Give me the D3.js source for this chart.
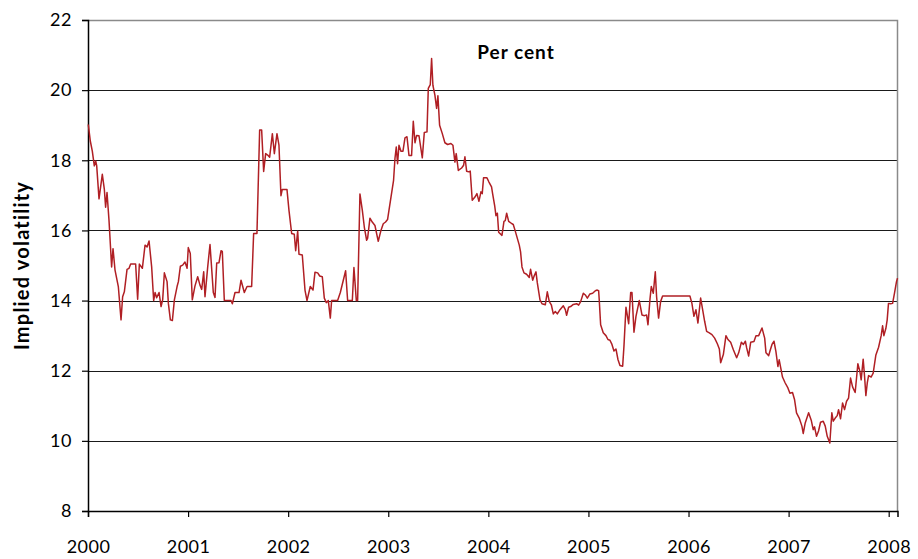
<!DOCTYPE html>
<html>
<head>
<meta charset="utf-8">
<script src="https://cdn.jsdelivr.net/npm/d3@7"></script>
<style>
  body { margin: 0; background: #fff; }
  svg { display: block; }
  text { font-family: Lato, "Open Sans", sans-serif; fill: #000; }
</style>
</head>
<body>
<svg id="chart" width="918" height="559"></svg>
<script>
// time in years after the start of 2000
const t = [
  0.003, 0.023, 0.043, 0.063, 0.077, 0.087, 0.11, 0.143, 0.163, 0.176, 0.19, 0.21, 0.236, 0.25, 0.27, 0.303,
  0.33, 0.346, 0.363, 0.39, 0.41, 0.426, 0.476, 0.496, 0.513, 0.543, 0.57, 0.59, 0.61, 0.636, 0.656, 0.67,
  0.686, 0.71, 0.73, 0.746, 0.763, 0.79, 0.803, 0.823, 0.843, 0.863, 0.89, 0.903, 0.923, 0.946, 0.969, 0.99,
  1.002, 1.022, 1.042, 1.069, 1.096, 1.119, 1.136, 1.156, 1.169, 1.196, 1.219, 1.252, 1.269, 1.286, 1.309, 1.329,
  1.342, 1.362, 1.409,
  1.429, 1.442, 1.469, 1.509, 1.529, 1.562, 1.589, 1.635, 1.655, 1.688, 1.715, 1.735, 1.755, 1.775, 1.795, 1.815,
  1.842, 1.862, 1.888, 1.908, 1.928, 1.941, 1.988, 2.008, 2.035, 2.061, 2.075, 2.095, 2.108, 2.141, 2.168, 2.188,
  2.221, 2.248, 2.268, 2.295, 2.315, 2.341, 2.361, 2.381, 2.401, 2.421, 2.434, 2.494, 2.521, 2.574, 2.594, 2.641,
  2.657, 2.681, 2.694, 2.717, 2.741, 2.761, 2.784,
  2.794, 2.817, 2.84, 2.867, 2.9, 2.927, 2.95, 2.973, 2.993, 3.007, 3.053, 3.067, 3.08, 3.093, 3.107, 3.127,
  3.147, 3.167, 3.187, 3.207, 3.233, 3.25, 3.267, 3.283, 3.307, 3.34, 3.36, 3.387, 3.4, 3.42, 3.433, 3.446,
  3.466, 3.483, 3.496, 3.513, 3.54, 3.566, 3.593, 3.626, 3.646, 3.666, 3.679, 3.7, 3.733, 3.753, 3.766, 3.783,
  3.806, 3.819, 3.839, 3.866, 3.886, 3.906, 3.926, 3.939, 3.952, 3.986, 4.006, 4.032,
  4.043, 4.063, 4.076, 4.09, 4.103, 4.136, 4.156, 4.169, 4.183, 4.203, 4.236, 4.249, 4.269, 4.309, 4.322, 4.336,
  4.356, 4.382, 4.409, 4.422, 4.443, 4.456, 4.476, 4.489, 4.516, 4.536, 4.569, 4.589, 4.609, 4.629, 4.649, 4.669,
  4.689, 4.716, 4.749, 4.769, 4.782, 4.802, 4.822, 4.849, 4.882, 4.902, 4.922, 4.949, 4.969, 4.989, 5.015, 5.042,
  5.069, 5.088, 5.102, 5.108, 5.122, 5.148, 5.175, 5.195, 5.215, 5.235, 5.255, 5.275, 5.295, 5.315, 5.342, 5.355,
  5.375, 5.402, 5.422, 5.435, 5.455, 5.475,
  5.508, 5.535, 5.561, 5.581, 5.595, 5.615, 5.628, 5.648, 5.668, 5.681, 5.701, 5.721, 5.741, 6.014, 6.034, 6.054,
  6.074, 6.094, 6.121, 6.141, 6.161, 6.181, 6.208, 6.234, 6.261, 6.288, 6.308, 6.321, 6.348, 6.374, 6.394, 6.421,
  6.448, 6.481, 6.501, 6.528, 6.548, 6.568, 6.581, 6.601, 6.621, 6.654, 6.674, 6.701, 6.734, 6.761, 6.774, 6.801,
  6.814, 6.834, 6.854,
  6.873, 6.893, 6.906, 6.92, 6.939, 6.966, 6.993, 7.013, 7.039, 7.059, 7.079, 7.106, 7.133, 7.146, 7.166, 7.2,
  7.226, 7.246, 7.259, 7.279, 7.299, 7.319, 7.346, 7.366, 7.386, 7.412, 7.432, 7.446, 7.466, 7.486, 7.499, 7.519,
  7.539, 7.559, 7.579, 7.599, 7.619, 7.639, 7.665, 7.692, 7.712, 7.725, 7.745, 7.759, 7.772, 7.786, 7.799, 7.825,
  7.845, 7.872, 7.899, 7.925, 7.939, 7.952, 7.972, 7.985, 7.998, 8.019, 8.039, 8.058, 8.078, 8.088
];

const vol = [
  19.02, 18.55, 18.26, 17.84, 17.98, 17.84, 16.9, 17.6, 17.18, 16.66, 17.08, 16.28, 14.96, 15.48, 14.87, 14.4,
  13.45, 14.11, 14.25, 14.89, 14.92, 15.04, 15.04, 14.04, 15.04, 14.92, 15.58, 15.53, 15.7, 14.96, 14.0, 14.23,
  14.08, 14.23, 13.83, 14.02, 14.79, 14.54, 13.92, 13.45, 13.43, 14.02, 14.4, 14.54, 14.98, 15.01, 15.1, 14.92,
  15.51, 15.34, 14.02, 14.42, 14.68, 14.44, 14.32, 14.82, 14.11, 14.96, 15.6, 14.23, 14.09, 15.07, 15.08, 15.42,
  15.4, 14.0, 14.0,
  14.0, 13.91, 14.23, 14.23, 14.58, 14.23, 14.4, 14.4, 15.91, 15.91, 18.86, 18.86, 17.68, 18.19, 18.15, 18.09,
  18.76, 18.19, 18.76, 18.43, 16.99, 17.17, 17.17, 16.57, 15.91, 15.89, 15.42, 15.98, 15.32, 15.3, 14.3, 14.0,
  14.4, 14.3, 14.81, 14.79, 14.7, 14.68, 14.07, 13.94, 14.0, 13.5, 14.0, 14.0, 14.23, 14.85, 14.0, 14.0,
  14.94, 14.0, 14.0, 17.04, 16.57, 16.09, 15.72,
  15.78, 16.35, 16.24, 16.14, 15.69, 16.0, 16.19, 16.24, 16.31, 16.57, 17.43, 18.05, 18.38, 17.9, 18.43, 18.26,
  18.26, 18.64, 18.67, 18.14, 18.14, 19.11, 18.5, 18.71, 18.7, 18.07, 18.79, 18.81, 20.05, 20.16, 20.9, 20.14,
  19.86, 19.48, 19.84, 19.0, 18.76, 18.5, 18.45, 18.48, 18.43, 17.95, 18.19, 17.71, 17.78, 17.86, 18.1, 17.69,
  17.67, 17.69, 16.86, 16.95, 17.05, 16.83, 17.1, 17.05, 17.5, 17.5, 17.38, 17.24,
  17.04, 16.71, 16.42, 16.49, 15.95, 15.86, 16.26, 16.28, 16.49, 16.26, 16.19, 16.17, 15.98, 15.58, 15.39, 14.96,
  14.79, 14.75, 14.66, 14.89, 14.58, 14.69, 14.82, 14.51, 14.02, 13.91, 13.88, 14.25, 13.97, 13.88, 13.62, 13.69,
  13.62, 13.74, 13.85, 13.74, 13.58, 13.81, 13.83, 13.89, 13.91, 13.87, 13.97, 14.21, 14.16, 14.07, 14.19, 14.21,
  14.28, 14.3, 14.28, 14.02, 13.31, 13.08, 13.0, 12.89, 12.87, 12.75, 12.56, 12.62, 12.32, 12.15, 12.13, 12.7,
  13.81, 13.34, 14.23, 14.23, 13.1, 13.55,
  14.0, 13.59, 13.57, 13.59, 13.31, 14.04, 14.4, 14.21, 14.82, 14.11, 13.5, 13.97, 14.13, 14.13, 13.92, 13.55,
  13.74, 13.36, 14.07, 13.74, 13.41, 13.12, 13.08, 13.03, 12.93, 12.77, 12.62, 12.23, 12.46, 13.0, 12.89, 12.81,
  12.6, 12.37, 12.51, 12.81, 12.75, 12.84, 12.65, 12.42, 12.81, 12.83, 13.0, 13.0, 13.22, 12.93, 12.51, 12.43,
  12.56, 12.75, 12.84,
  12.55, 12.12, 12.31, 12.1, 11.82, 11.65, 11.51, 11.36, 11.38, 11.18, 10.8, 10.65, 10.42, 10.21, 10.51, 10.8,
  10.59, 10.32, 10.4, 10.13, 10.28, 10.53, 10.56, 10.42, 10.13, 9.94, 10.8, 10.56, 10.65, 10.72, 10.89, 10.63,
  11.08, 10.89, 11.13, 11.22, 11.79, 11.54, 11.38, 12.2, 11.98, 11.74, 12.33, 11.84, 11.29, 11.65, 11.86, 11.82,
  11.93, 12.45, 12.67, 13.0, 13.28, 13.0, 13.21, 13.45, 13.92, 13.91, 13.92, 14.21, 14.54, 14.64
];

const yearLabels = ['2000', '2001', '2002', '2003', '2004', '2005', '2006', '2007', '2008'];
const yTicks = [8, 10, 12, 14, 16, 18, 20, 22];

const svg = d3.select('#chart');
const margin = {left: 88, top: 20, right: 20.5, bottom: 48};
const width = 918 - margin.left - margin.right,
      height = 559 - margin.top - margin.bottom;

const x = d3.scaleLinear().domain([0, 8.088]).range([0, width]);
const y = d3.scaleLinear().domain([8, 22]).range([height, 0]);

const g = svg.append('g').attr('transform', `translate(${margin.left},${margin.top})`);

// horizontal grid lines
g.append('g').selectAll('line')
  .data(yTicks.slice(1, -1))
  .join('line')
  .attr('x1', 0).attr('x2', width)
  .attr('y1', d => Math.round(y(d)) + 0.5).attr('y2', d => Math.round(y(d)) + 0.5)
  .attr('stroke', '#1a1a1a').attr('stroke-width', 1);

// top and right border
g.append('path')
  .attr('d', `M0,0.5H${width}V${height}`)
  .attr('fill', 'none').attr('stroke', '#8a8a8a').attr('stroke-width', 1.5);

const yAxis = g.append('g')
  .call(d3.axisLeft(y).tickValues(yTicks).tickSize(6).tickPadding(10).tickFormat(d3.format('d')));
const xAxis = g.append('g').attr('transform', `translate(0,${height})`)
  .call(d3.axisBottom(x).tickValues(d3.range(yearLabels.length)).tickSize(6).tickPadding(23)
    .tickFormat((d, i) => yearLabels[i]));

[yAxis, xAxis].forEach(a => {
  a.select('.domain').attr('stroke', '#000').attr('stroke-width', 1.5);
  a.selectAll('.tick line').attr('stroke', '#000').attr('stroke-width', 1.2);
  a.selectAll('.tick text').style('font-size', '18px').style('letter-spacing', '0.5px').attr('fill', '#000');
});
xAxis.selectAll('.tick text').attr('dy', '0.71em');

const line = d3.line()
  .x((d, i) => x(t[i]))
  .y(d => y(d));

g.append('path')
  .datum(vol)
  .attr('d', line)
  .attr('fill', 'none')
  .attr('stroke', '#b01f24')
  .attr('stroke-width', 1.5)
  .attr('stroke-linejoin', 'round');

svg.append('text')
  .attr('transform', `translate(29,${margin.top + height / 2}) rotate(-90)`)
  .attr('text-anchor', 'middle')
  .style('font-size', '20px').style('font-weight', 'bold').style('letter-spacing', '1.2px')
  .text('Implied volatility');

svg.append('text')
  .attr('x', 516).attr('y', 59)
  .attr('text-anchor', 'middle')
  .style('font-size', '19px').style('font-weight', 'bold').style('letter-spacing', '1px')
  .text('Per cent');
</script>
</body>
</html>
